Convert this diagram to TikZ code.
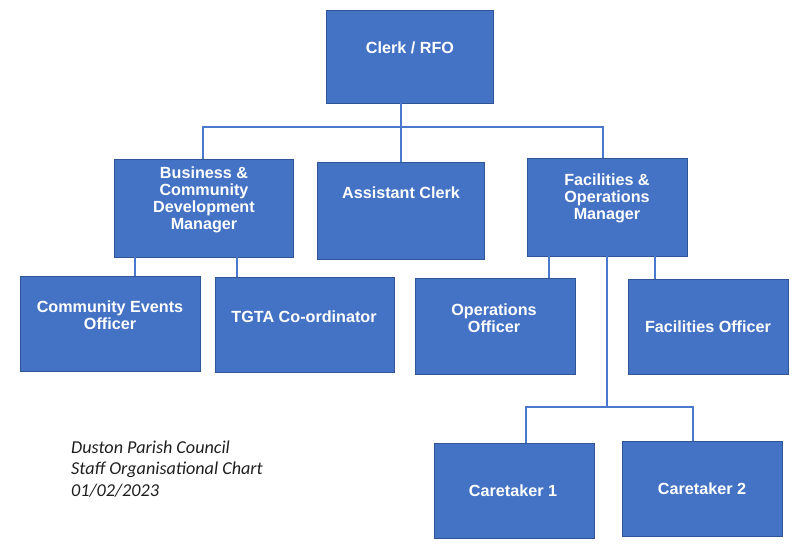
\documentclass[tikz,border=0pt]{standalone}
\usepackage{fontspec}
\setmainfont{Liberation Sans}
\newfontfamily\notefont{Carlito}
\usetikzlibrary{positioning}
\definecolor{unit}{HTML}{4472C4}
\definecolor{edge}{HTML}{2F5597}
\definecolor{link}{HTML}{4A78CC}
\definecolor{note}{HTML}{1F1F1F}

\begin{document}
\begin{tikzpicture}[x=0.03cm,y=-0.03cm,
  post/.style={draw=edge,fill=unit,line width=0.5pt,inner sep=0pt,minimum width=4.8cm,minimum height=2.85cm},
  title/.style={text=white,font=\fontsize{13.8}{14.5}\selectfont\bfseries,align=center,inner sep=0pt},
  wire/.style={draw=link,line width=1.1pt}]
\useasboundingbox (0,0) rectangle (800,553);

% boxes
\node[post,minimum width=5.01cm,minimum height=2.79cm] (clerk) at (409.5,56.5) {};
\node[post,minimum width=5.37cm,minimum height=2.94cm] (bus) at (203.5,208) {};
\node[post,minimum width=5.01cm,minimum height=2.91cm] (asst) at (400.5,210.5) {};
\node[post,minimum height=2.94cm] (fac) at (607,207) {};
\node[post,minimum width=5.4cm] (ceo) at (110,323.5) {};
\node[post,minimum width=5.37cm] (tgta) at (304.5,324.5) {};
\node[post,minimum height=2.88cm] (ops) at (495,326) {};
\node[post] (facoff) at (708,326.5) {};
\node[post] (care1) at (514,490.5) {};
\node[post] (care2) at (702,488.5) {};

\node[title] (clerkT) at (410,48) {Clerk / RFO};
\node[title] (busT) at (204,200) {Business \&\\Community\\Development\\Manager};
\node[title] (asstT) at (401,193) {Assistant Clerk};
\node[title] (facT) at (607,198) {Facilities \&\\Operations\\Manager};
\node[title] (ceoT) at (110,315) {Community Events\\Officer};
\node[title] (tgtaT) at (304,317) {TGTA Co-ordinator};
\node[title] (opsT) at (494,318) {Operations\\Officer};
\node[title] (facoffT) at (708,327) {Facilities Officer};
\node[title] (care1T) at (513,491) {Caretaker 1};
\node[title] (care2T) at (702,489) {Caretaker 2};

\node[anchor=west,align=left,inner sep=0pt,text=note,font=\notefont\itshape\fontsize{15.5}{18.3}\selectfont] (note) at (71,469)
  {Duston Parish Council\\Staff Organisational Chart\\01/02/2023};

% lines
\coordinate (top) at (401,127);
\coordinate (split) at (607,407);
\coordinate (xbus) at (203,0);
\coordinate (xfac) at (603,0);
\coordinate (xceo) at (135,0);
\coordinate (xtgta) at (237,0);
\coordinate (xops) at (549,0);
\coordinate (xfoff) at (655,0);
\coordinate (xc1) at (526,0);
\coordinate (xc2) at (693,0);
\draw[wire] (clerk.south -| top) -- (top) -- (asst.north -| top);
\draw[wire] (bus.north -| xbus) |- (top) -| (fac.north -| xfac);
\draw[wire] (bus.south -| xceo) -- (ceo.north -| xceo);
\draw[wire] (bus.south -| xtgta) -- (tgta.north -| xtgta);
\draw[wire] (fac.south -| xops) -- (ops.north -| xops);
\draw[wire] (fac.south -| xfoff) -- (facoff.north -| xfoff);
\draw[wire] (fac.south -| split) -- (split);
\draw[wire] (care1.north -| xc1) |- (split) -| (care2.north -| xc2);
\end{tikzpicture}
\end{document}
